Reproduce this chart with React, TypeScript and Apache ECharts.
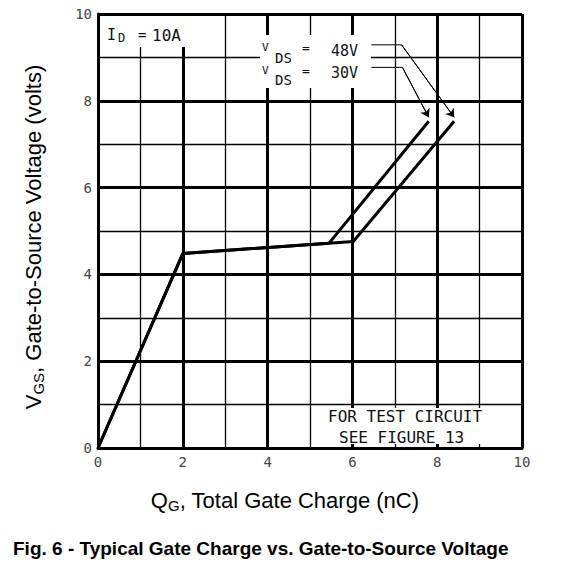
import React, { useEffect, useRef } from "react";
import * as echarts from "echarts";

// Gate charge curves, [QG nC, VGS V]
const curve30V = [
  [0, 0],
  [2.0, 4.48],
  [5.45, 4.72],
  [7.8, 7.53],
];
const curve48V = [
  [0, 0],
  [2.0, 4.48],
  [6.02, 4.76],
  [8.4, 7.53],
];
// leaders from the VDS labels to the curve ends
const leader48V = [
  [6.45, 9.29],
  [7.16, 9.29],
  [8.4, 7.62],
];
const leader30V = [
  [6.45, 8.77],
  [7.18, 8.77],
  [7.8, 7.62],
];

const GRID = { left: 98, top: 14, right: 45, bottom: 118 };
const MONO = "DejaVu Sans Mono";
const SANS = "Liberation Sans, Arial, sans-serif";

// annotation pieces: text, x, y (centre), font size
const notes: [string, number, number, number][] = [
  ["I", 107, 35, 15],
  ["D", 118, 38, 12],
  ["=", 138, 35, 14],
  ["10A", 152, 35, 16],
  ["V", 262, 47, 11],
  ["DS", 275, 58, 14],
  ["=", 302, 47, 13],
  ["48V", 331, 51, 15],
  ["V", 262, 70, 11],
  ["DS", 275, 80, 14],
  ["=", 302, 70, 13],
  ["30V", 331, 73, 15],
  ["FOR TEST CIRCUIT", 328, 416, 16],
  ["SEE FIGURE 13", 339, 437, 16],
];

// white boxes behind the annotations: x, y, w, h
const boxes: [number, number, number, number][] = [
  [100, 16, 89, 31],
  [260, 35, 111, 53],
  [312, 408, 208, 36],
];

const App = () => {
  const chartRef = useRef<HTMLDivElement>(null);

  useEffect(() => {
    if (!chartRef.current) return;
    const chart = echarts.init(chartRef.current, null, { renderer: "svg" });

    const axisCommon = {
      type: "value" as const,
      min: 0,
      max: 10,
      interval: 2,
      axisLine: { show: true, lineStyle: { color: "#000", width: 3 } },
      axisTick: { show: false },
      minorTick: { show: false, splitNumber: 2 },
      splitLine: { show: true, lineStyle: { color: "#000", width: 3 } },
      minorSplitLine: { show: true, lineStyle: { color: "#000", width: 1.3 } },
      axisLabel: { color: "#444", fontFamily: MONO, fontSize: 14 },
    };

    const option = {
      animation: false,
      title: {
        text: "Fig. 6 - Typical Gate Charge vs. Gate-to-Source Voltage",
        left: 13,
        top: 539,
        padding: 0,
        textStyle: { fontFamily: SANS, fontSize: 19, fontWeight: "bold", color: "#000" },
      },
      grid: GRID,
      xAxis: {
        ...axisCommon,
        axisLabel: { ...axisCommon.axisLabel, margin: 7 },
        name: "{m|Q}{s|G}{m|, Total Gate Charge (nC)}",
        nameLocation: "middle",
        nameGap: 40,
        nameTextStyle: {
          padding: [0, 50, 0, 0],
          rich: {
            m: { fontFamily: SANS, fontSize: 22, color: "#000" },
            s: { fontFamily: SANS, fontSize: 15, color: "#000", padding: [10, 0, 0, 0] },
          },
        },
      },
      yAxis: {
        ...axisCommon,
        axisLabel: { ...axisCommon.axisLabel, margin: 6 },
        name: "{m|V}{s|GS}{m|, Gate-to-Source Voltage (volts)}",
        nameLocation: "middle",
        nameGap: 52,
        nameTextStyle: {
          padding: [0, 12, 0, 0],
          rich: {
            m: { fontFamily: SANS, fontSize: 22, color: "#000" },
            s: { fontFamily: SANS, fontSize: 15, color: "#000", padding: [10, 0, 0, 0] },
          },
        },
      },
      graphic: [
        ...boxes.map(([x, y, w, h]) => ({
          type: "rect",
          z: 10,
          shape: { x, y, width: w, height: h },
          style: { fill: "#fff" },
        })),
        ...notes.map(([text, x, y, size]) => ({
          type: "text",
          z: 11,
          x,
          y,
          style: {
            text,
            fontFamily: MONO,
            fontSize: size,
            fill: "#111",
            align: "left",
            verticalAlign: "middle",
          },
        })),
      ],
      series: [
        {
          name: "VDS = 30V",
          type: "line",
          data: curve30V,
          symbol: "none",
          lineStyle: { color: "#000", width: 3 },
          z: 3,
        },
        {
          name: "VDS = 48V",
          type: "line",
          data: curve48V,
          symbol: "none",
          lineStyle: { color: "#000", width: 3 },
          z: 3,
        },
        {
          type: "line",
          data: leader48V,
          symbol: "none",
          lineStyle: { color: "#000", width: 1 },
          z: 3,
        },
        {
          type: "line",
          data: leader30V,
          symbol: "none",
          lineStyle: { color: "#000", width: 1 },
          z: 3,
        },
        {
          type: "lines",
          coordinateSystem: "cartesian2d",
          symbol: ["none", "arrow"],
          symbolSize: 8,
          lineStyle: { color: "#000", width: 1, opacity: 1 },
          data: [
            { coords: leader48V.slice(1) },
            { coords: leader30V.slice(1) },
          ],
          z: 3,
        },
      ],
    };

    chart.setOption(option);

    return () => {
      chart.dispose();
    };
  }, []);

  return (
    <div
      ref={chartRef}
      style={{ position: "absolute", left: 0, top: 0, width: "567px", height: "566px" }}
    />
  );
};

export default App;
